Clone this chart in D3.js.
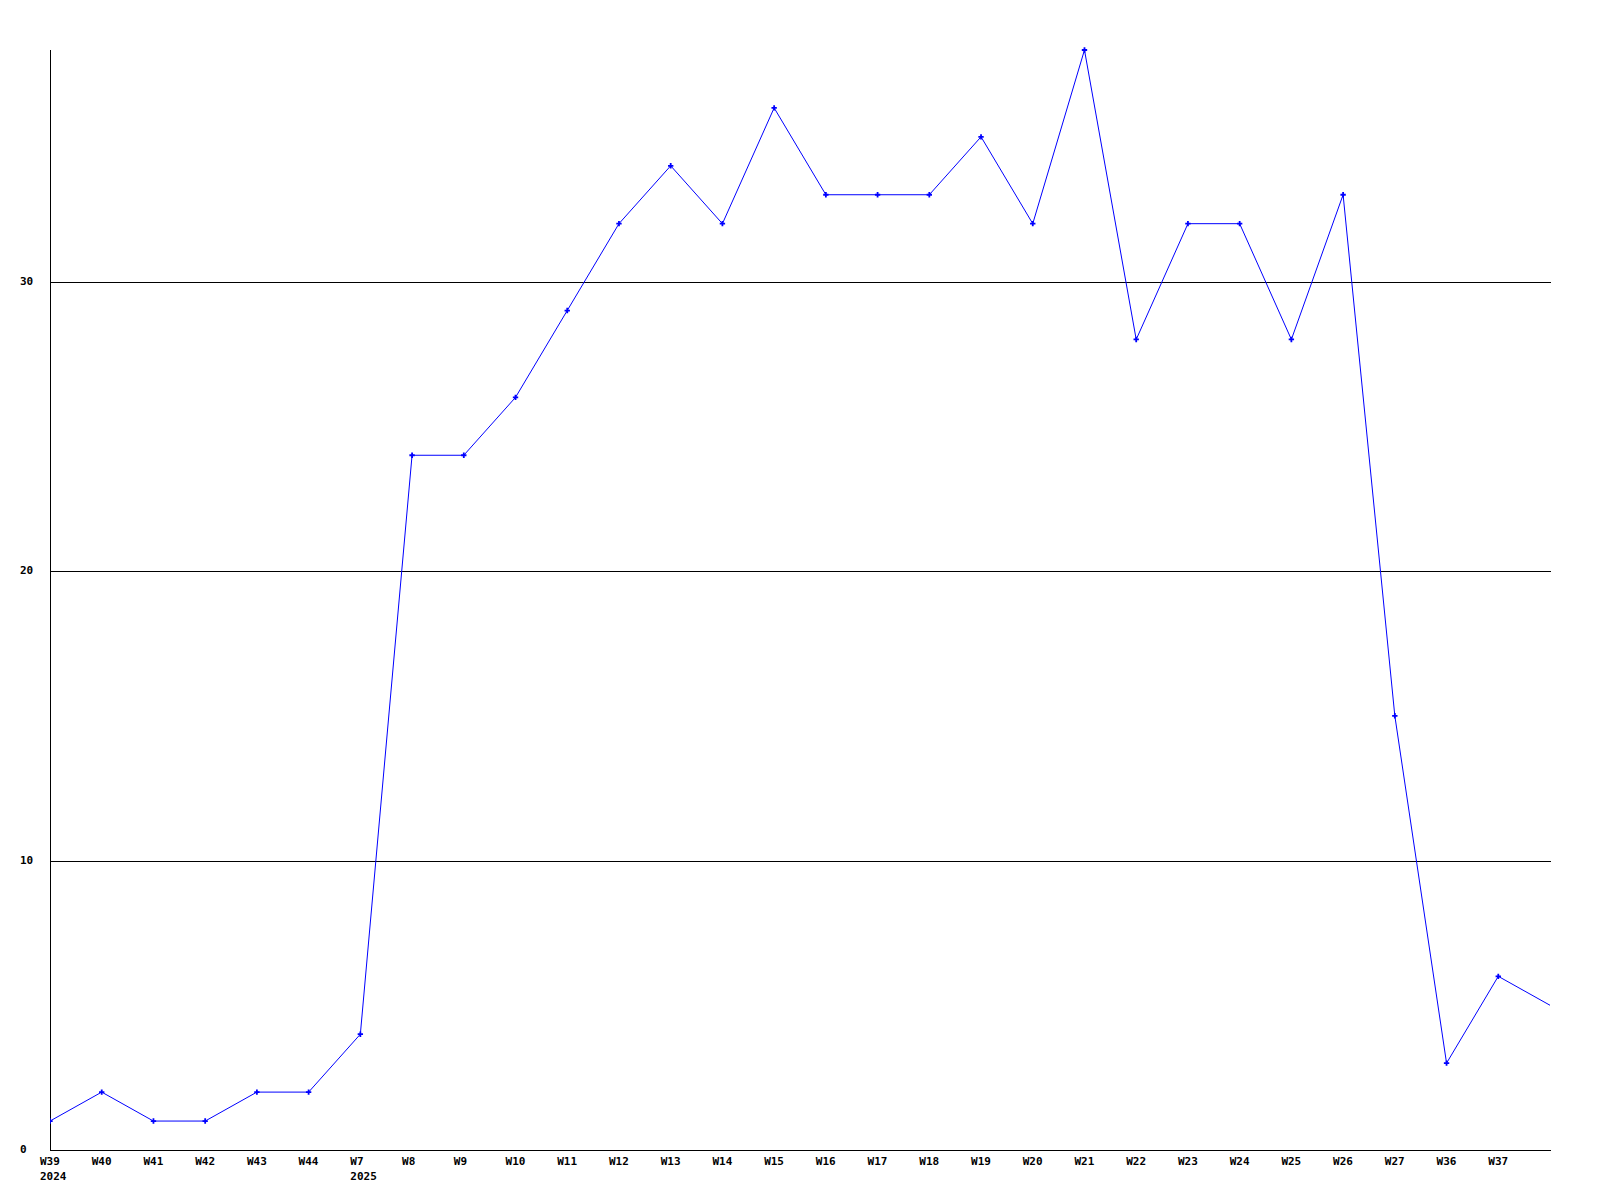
<html>
<head>
<script src="https://d3js.org/d3.v7.min.js"></script>
<style>
body { margin: 0; background: #fff; }
text { font-family: "DejaVu Sans Mono", monospace; font-weight: bold; font-size: 11px; }
line { shape-rendering: crispEdges; }
</style>
</head>
<body>
<svg id="main_vis" width="1600" height="1200"></svg>
<script>
// weeks shown on the x axis (last point has no label)
var weeks = ["W39","W40","W41","W42","W43","W44","W7","W8","W9","W10","W11","W12","W13","W14","W15",
             "W16","W17","W18","W19","W20","W21","W22","W23","W24","W25","W26","W27","W36","W37",""];
var years = {"W39": "2024", "W7": "2025"};
var counts = [1,2,1,1,2,2,4,24,24,26,29,32,34,32,36,33,33,33,35,32,38,28,32,32,28,33,15,3,6,5];
var yTicks = [0, 10, 20, 30];

var svg = d3.select("#main_vis");

var x = d3.scaleLinear()
  .domain([0, weeks.length - 1])
  .range([50, 1550]);

var y = d3.scaleLinear()
  .domain([0, 38])
  .range([1150, 50]);

// clip for the plot area
svg.append("clipPath").attr("id", "plot")
  .append("rect").attr("x", 50).attr("y", 40).attr("width", 1501).attr("height", 1115);

// grid lines
svg.selectAll(".grid")
  .data(yTicks.filter(function(d) { return d > 0; }))
  .enter().append("line")
    .attr("x1", 50).attr("x2", 1551)
    .attr("y1", function(d) { return y(d) + 0.5; })
    .attr("y2", function(d) { return y(d) + 0.5; })
    .attr("stroke", "black")
    .attr("stroke-width", 1);

// y labels
svg.selectAll(".ylab")
  .data(yTicks)
  .enter().append("text")
    .attr("x", 20)
    .attr("y", function(d) { return y(d) + 3; })
    .text(function(d) { return d; });

// axes lines
svg.append("line").attr("x1", 50.5).attr("x2", 50.5).attr("y1", 50).attr("y2", 1151)
  .attr("stroke", "black");
svg.append("line").attr("x1", 50).attr("x2", 1551).attr("y1", 1150.5).attr("y2", 1150.5)
  .attr("stroke", "black");

// x labels
svg.selectAll(".xlab")
  .data(weeks)
  .enter().append("text")
    .attr("x", function(d, i) { return x(i) - 10; })
    .attr("y", 1165)
    .text(function(d) { return d; });

svg.selectAll(".year")
  .data(weeks.filter(function(d) { return years[d]; }))
  .enter().append("text")
    .attr("x", function(d) { return x(weeks.indexOf(d)) - 10; })
    .attr("y", 1180)
    .text(function(d) { return years[d]; });

// the line
var g = svg.append("g").attr("clip-path", "url(#plot)");
g.append("path")
  .datum(counts)
  .attr("fill", "none")
  .attr("stroke", "#0000ff")
  .attr("stroke-width", 1)
  .attr("d", d3.line()
    .x(function(d, i) { return x(i); })
    .y(function(d) { return y(d); }));

// markers
g.selectAll(".dot")
  .data(counts.slice(0, counts.length - 1))
  .enter().append("path")
    .attr("transform", function(d, i) { return "translate(" + x(i) + "," + y(d) + ")"; })
    .attr("d", d3.symbol().type(d3.symbolCross).size(16))
    .attr("fill", "#0000ff");
</script>
</body>
</html>
